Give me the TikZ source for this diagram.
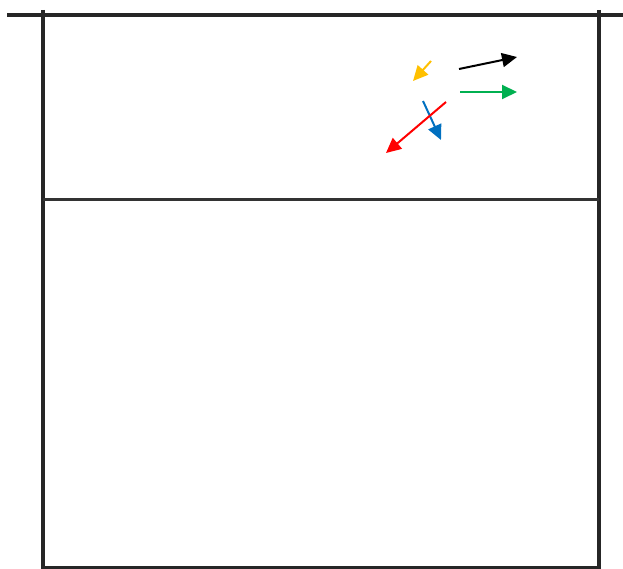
\documentclass[tikz,border=0pt]{standalone}
\usetikzlibrary{arrows.meta}
\definecolor{amarillo}{HTML}{FFC000}
\definecolor{verde}{HTML}{00B050}
\definecolor{azul}{HTML}{0070C0}
\definecolor{rojo}{HTML}{FF0000}
\tikzset{flecha/.style={line width=2pt, -{Triangle[length=15pt,width=14pt]}}}
\begin{document}
\begin{tikzpicture}[x=1pt,y=-1pt]
    \useasboundingbox (0,0) rectangle (623,569);
    % Red y postes
    \draw[line width=3.5pt, black!85] (7,15) -- (623,15);
    \draw[line width=4.5pt, black!85] (43,10) -- (43,569);
    \draw[line width=4.5pt, black!85] (599,10) -- (599,569);
    \draw[line width=3pt, black!80] (43,200) -- (599,200);
    \draw[line width=3pt, black!85] (43,567) -- (599,567);
    % Flechas
    \draw[flecha, amarillo] (431,61) -- (413,81);
    \draw[flecha, black] (459,69) -- (517,57);
    \draw[flecha, verde] (460,92) -- (517,92);
    \draw[flecha, azul] (423,101) -- (441,140);
    \draw[flecha, rojo] (446,102) -- (386,153);
\end{tikzpicture}
\end{document}
